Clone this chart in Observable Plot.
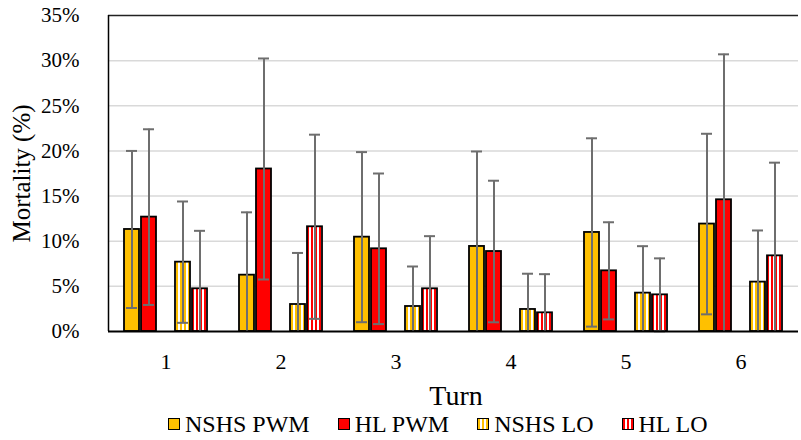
<!DOCTYPE html>
<html>
<head>
<meta charset="utf-8">
<script src="https://cdn.jsdelivr.net/npm/d3@7"></script>
<script src="https://cdn.jsdelivr.net/npm/@observablehq/plot@0.6"></script>
<style>
  html, body { margin: 0; padding: 0; background: #fff; }
  #chart { width: 801px; height: 440px; position: relative; font-family: "Liberation Serif", Tinos, "Times New Roman", "DejaVu Serif", serif; }
  #legend { position: absolute; left: 168px; top: 410px; display: flex; align-items: center; height: 28px; font-size: 24px; line-height: 28px; color: #000; white-space: nowrap; }
  .item { display: flex; align-items: center; margin-right: 28px; }
  .sw { width: 10px; height: 10px; border: 1.5px solid #000; margin-right: 5px; }
  #xtitle { position: absolute; left: 356px; width: 200px; top: 381px; text-align: center; font-size: 28px; line-height: 30px; color: #000; }
  #chart svg text { font-family: "Liberation Serif", Tinos, "Times New Roman", "DejaVu Serif", serif; }
</style>
</head>
<body>
<div id="chart"></div>
<script>
const turns = [1, 2, 3, 4, 5, 6];
const seriesNames = ["NSHS PWM", "HL PWM", "NSHS LO", "HL LO"];
const slots = ["NSHS PWM", "HL PWM", "_gap", "NSHS LO", "HL LO"];
const yTicks = [0, 5, 10, 15, 20, 25, 30, 35];
const xTitle = "Turn";
const yTitle = "Mortality (%)";

const nshsPwm    = [11.3, 6.24, 10.45, 9.42, 10.97, 11.9];
const nshsPwmErr = [8.7, 6.96, 9.42, 10.52, 10.43, 10.0];
const hlPwm      = [12.67, 18.0, 9.16, 8.86, 6.72, 14.59];
const hlPwmErr   = [9.73, 12.24, 8.34, 7.84, 5.38, 16.11];
const nshsLo     = [7.68, 2.99, 2.77, 2.44, 4.25, 5.47];
const nshsLoErr  = [6.72, 5.71, 4.43, 3.96, 5.2, 5.72];
const hlLo       = [4.73, 11.6, 4.73, 2.07, 4.06, 8.38];
const hlLoErr    = [6.42, 10.2, 5.83, 4.28, 4.04, 10.32];

const fills = ["#FFC000", "#FF0000", "url(#pNS)", "url(#pHL)"];
const swatchCss = [
  "#FFC000",
  "#FF0000",
  "repeating-linear-gradient(90deg, #FFC000 0 2px, #fff 2px 4px)",
  "repeating-linear-gradient(90deg, #FF0000 0 2px, #fff 2px 4px)"
];

const means = [nshsPwm, hlPwm, nshsLo, hlLo];
const errs = [nshsPwmErr, hlPwmErr, nshsLoErr, hlLoErr];
const rows = [];
seriesNames.forEach((s, i) => {
  turns.forEach((t, j) => {
    const m = means[i][j], e = errs[i][j];
    rows.push({turn: t, series: s, value: m, lo: Math.max(0, m - e), hi: m + e, showLo: m - e > 0});
  });
});

const plot = Plot.plot({
  width: 801,
  height: 410,
  marginLeft: 108,
  marginRight: 3,
  marginTop: 15,
  marginBottom: 79,
  style: {fontSize: "21px", color: "#000", background: "#fff"},
  fx: {domain: turns, padding: 0, axis: "bottom", tickSize: 0, tickPadding: 22, label: null},
  x: {domain: slots, paddingInner: 0.143, paddingOuter: 0.857, axis: null},
  y: {domain: [0, 35], ticks: yTicks, tickFormat: d => `${d}%`, tickSize: 0, tickPadding: 29, label: yTitle, labelAnchor: "center", labelOffset: 96, labelArrow: "none", line: false},
  color: {domain: seriesNames, range: fills},
  marks: [
    Plot.ruleY([5, 10, 15, 20, 25, 30], {stroke: "#d9d9d9", strokeWidth: 1.5}),
    Plot.ruleY([35], {stroke: "#222", strokeWidth: 1.5}),
    Plot.barY(rows, {fx: "turn", x: "series", y: "value", fill: "series", stroke: "#000", strokeWidth: 1.8}),
    Plot.ruleX(rows, {fx: "turn", x: "series", y1: "lo", y2: "hi", stroke: "#6e6e6e", strokeWidth: 2}),
    Plot.tickY(rows, {fx: "turn", x: "series", y: "hi", stroke: "#6e6e6e", strokeWidth: 2, insetLeft: 2, insetRight: 2}),
    Plot.tickY(rows.filter(d => d.showLo), {fx: "turn", x: "series", y: "lo", stroke: "#6e6e6e", strokeWidth: 2, insetLeft: 2, insetRight: 2}),
    Plot.ruleY([0], {stroke: "#000", strokeWidth: 2}),
    Plot.ruleX([0], {fx: () => 1, x: () => "NSHS PWM", y1: 0, y2: 35, stroke: "#000", strokeWidth: 1.5, dx: -23.5})
  ]
});

// pattern definitions
const defs = d3.select(plot).insert("defs", ":first-child");
[["pNS", "#FFC000"], ["pHL", "#FF0000"]].forEach(([id, c]) => {
  const p = defs.append("pattern").attr("id", id).attr("patternUnits", "userSpaceOnUse").attr("width", 4).attr("height", 4);
  p.append("rect").attr("width", 4).attr("height", 4).attr("fill", "#fff");
  p.append("rect").attr("width", 2).attr("height", 4).attr("fill", c);
});
d3.select(plot).selectAll('[aria-label="y-axis label"]').attr("font-size", 25);
d3.select(plot).selectAll('[aria-label="fx-axis tick label"]').attr("font-size", 22);

const chart = document.getElementById("chart");
chart.appendChild(plot);

const xt = document.createElement("div");
xt.id = "xtitle";
xt.textContent = xTitle;
chart.appendChild(xt);

const legend = document.createElement("div");
legend.id = "legend";
seriesNames.forEach((s, i) => {
  const item = document.createElement("div");
  item.className = "item";
  const sw = document.createElement("div");
  sw.className = "sw";
  sw.style.background = swatchCss[i];
  const label = document.createElement("span");
  label.textContent = s;
  item.appendChild(sw);
  item.appendChild(label);
  legend.appendChild(item);
});
chart.appendChild(legend);
</script>
</body>
</html>
